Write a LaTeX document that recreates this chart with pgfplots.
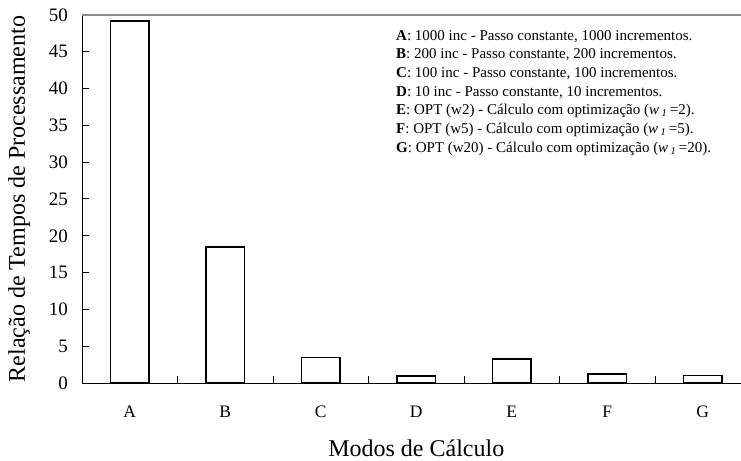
\documentclass[border=0pt]{standalone}
\usepackage{fontspec}
\setmainfont{Liberation Serif}
\usepackage{pgfplots}
\pgfplotsset{compat=1.18}
\newcommand{\legfont}{\fontsize{15bp}{18bp}\selectfont}
\newcommand{\wone}{\textit{w}\,\textsubscript{\textit{1}}\,}
\begin{document}
\begin{tikzpicture}
\begin{axis}[
  at={(82bp,78bp)}, anchor=south west,
  scale only axis, width=668.5bp, height=368bp,
  xmin=0, xmax=7, ymin=0, ymax=50,
  axis x line*=bottom, axis y line*=left,
  axis line style={line width=1bp, black},
  tick align=inside,
  major tick length=7bp,
  tick style={line width=1bp, black},
  ytick={0,5,...,45},
  extra y ticks={50},
  extra y tick style={grid=major, major grid style={draw=gray!90, line width=1.8bp}, major tick length=0pt},
  xtick={1,2,3,4,5,6,7},
  xticklabels={},
  extra x ticks={0.5,1.5,2.5,3.5,4.5,5.5,6.5},
  extra x tick labels={A,B,C,D,E,F,G},
  extra x tick style={major tick length=0pt},
  yticklabel style={font=\fontsize{19bp}{22bp}\selectfont, inner sep=0pt, xshift=-14bp},
  xticklabel style={font=\fontsize{17.5bp}{20bp}\selectfont, inner sep=0pt, yshift=-23bp},
  /pgf/number format/assume math mode=true,
  xlabel={Modos de C\'alculo},
  ylabel={Rela\c{c}\~ao de Tempos de Processamento},
  xlabel style={font=\fontsize{24bp}{28bp}\selectfont, at={(axis description cs:0.5,0)}, anchor=center, yshift=-65bp},
  ylabel style={font=\fontsize{24bp}{28bp}\selectfont, at={(axis description cs:0,0.5)}, anchor=center, rotate=0, xshift=0bp, yshift=63bp},
]
\addplot[ybar, bar width=38.2bp, fill=white, draw=black, line width=1.4bp]
  coordinates {(0.5,49.2) (1.5,18.5) (2.5,3.44) (3.5,0.95) (4.5,3.26) (5.5,1.22) (6.5,1.0)};
\node[anchor=base west, inner sep=0pt, font=\legfont] at (axis cs:3.288,46.60) {\textbf{A}: 1000 inc - Passo constante, 1000 incrementos.};
\node[anchor=base west, inner sep=0pt, font=\legfont] at (axis cs:3.288,44.06) {\textbf{B}: 200 inc - Passo constante, 200 incrementos.};
\node[anchor=base west, inner sep=0pt, font=\legfont] at (axis cs:3.288,41.52) {\textbf{C}: 100 inc - Passo constante, 100 incrementos.};
\node[anchor=base west, inner sep=0pt, font=\legfont] at (axis cs:3.288,38.98) {\textbf{D}: 10 inc - Passo constante, 10 incrementos.};
\node[anchor=base west, inner sep=0pt, font=\legfont] at (axis cs:3.288,36.44) {\textbf{E}: OPT (w2) - C\'alculo com optimiza\c{c}\~ao (\wone=2).};
\node[anchor=base west, inner sep=0pt, font=\legfont] at (axis cs:3.288,33.90) {\textbf{F}: OPT (w5) - C\'alculo com optimiza\c{c}\~ao (\wone=5).};
\node[anchor=base west, inner sep=0pt, font=\legfont] at (axis cs:3.288,31.36) {\textbf{G}: OPT (w20) - C\'alculo com optimiza\c{c}\~ao (\wone=20).};
\end{axis}
\pgfresetboundingbox
\useasboundingbox (0,0) rectangle (741bp,461bp);
\end{tikzpicture}
\end{document}
